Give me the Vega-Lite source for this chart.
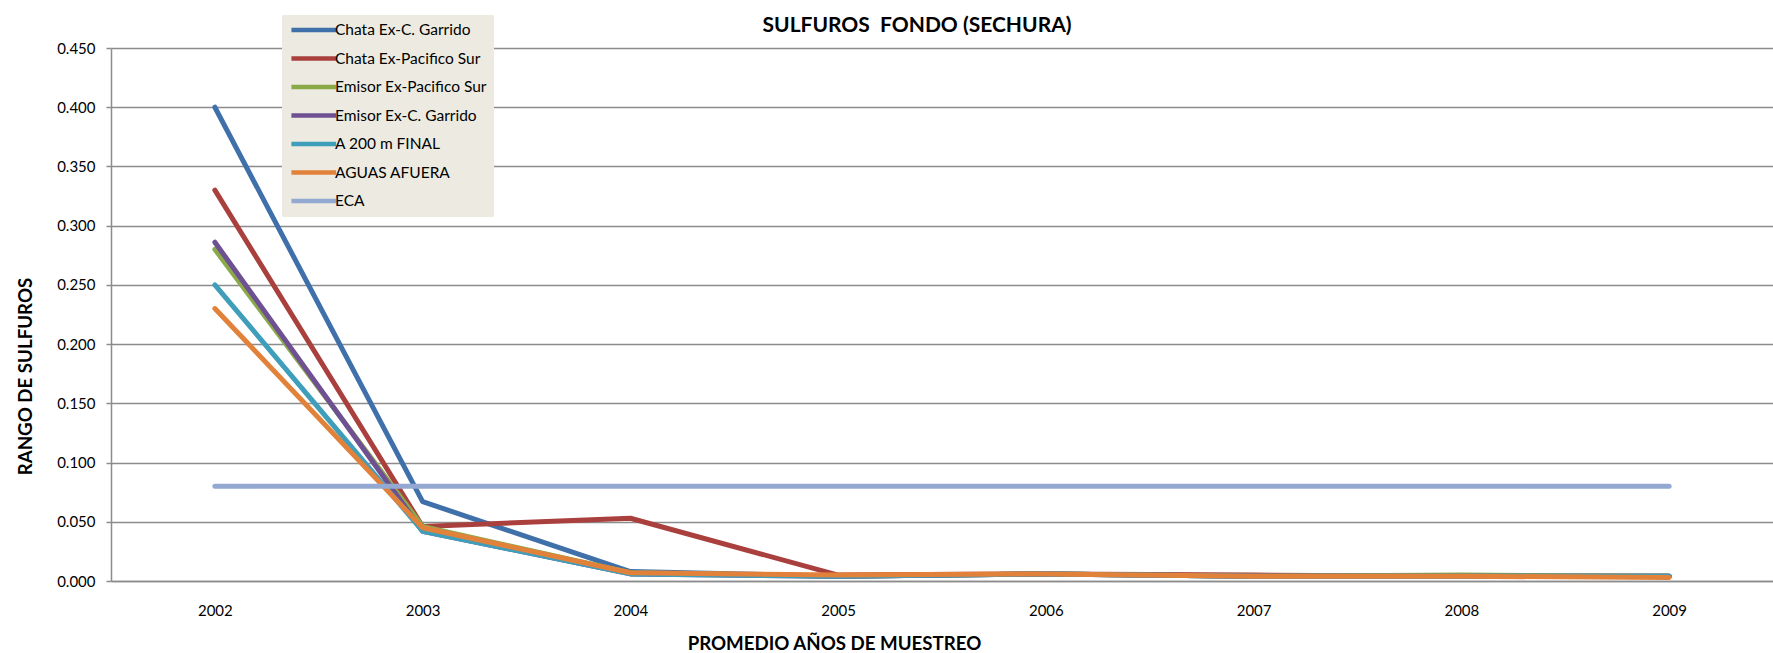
{
  "$schema": "https://vega.github.io/schema/vega-lite/v6.json",
  "autosize": {"type": "none"},
  "width": 1662,
  "height": 533,
  "padding": {"left": 111, "top": 48, "right": 0, "bottom": 72},
  "background": "white",
  "title": {
    "text": "SULFUROS\u00a0 FONDO (SECHURA)",
    "font": "Lato",
    "fontSize": 21,
    "fontWeight": "bold",
    "color": "#000000",
    "anchor": "middle",
    "dx": -25,
    "offset": -21
  },
  "data": {
    "values": [
      {"serie": "Chata Ex-C. Garrido", "anio": "2002", "valor": 0.400},
      {"serie": "Chata Ex-C. Garrido", "anio": "2003", "valor": 0.067},
      {"serie": "Chata Ex-C. Garrido", "anio": "2004", "valor": 0.008},
      {"serie": "Chata Ex-C. Garrido", "anio": "2005", "valor": 0.004},
      {"serie": "Chata Ex-C. Garrido", "anio": "2006", "valor": 0.006},
      {"serie": "Chata Ex-C. Garrido", "anio": "2007", "valor": 0.004},
      {"serie": "Chata Ex-C. Garrido", "anio": "2008", "valor": 0.004},
      {"serie": "Chata Ex-C. Garrido", "anio": "2009", "valor": 0.004},
      {"serie": "Chata Ex-Pacifico Sur", "anio": "2002", "valor": 0.330},
      {"serie": "Chata Ex-Pacifico Sur", "anio": "2003", "valor": 0.046},
      {"serie": "Chata Ex-Pacifico Sur", "anio": "2004", "valor": 0.053},
      {"serie": "Chata Ex-Pacifico Sur", "anio": "2005", "valor": 0.005},
      {"serie": "Chata Ex-Pacifico Sur", "anio": "2006", "valor": 0.006},
      {"serie": "Chata Ex-Pacifico Sur", "anio": "2007", "valor": 0.005},
      {"serie": "Chata Ex-Pacifico Sur", "anio": "2008", "valor": 0.004},
      {"serie": "Chata Ex-Pacifico Sur", "anio": "2009", "valor": 0.004},
      {"serie": "Emisor Ex-Pacifico Sur", "anio": "2002", "valor": 0.280},
      {"serie": "Emisor Ex-Pacifico Sur", "anio": "2003", "valor": 0.046},
      {"serie": "Emisor Ex-Pacifico Sur", "anio": "2004", "valor": 0.007},
      {"serie": "Emisor Ex-Pacifico Sur", "anio": "2005", "valor": 0.004},
      {"serie": "Emisor Ex-Pacifico Sur", "anio": "2006", "valor": 0.006},
      {"serie": "Emisor Ex-Pacifico Sur", "anio": "2007", "valor": 0.004},
      {"serie": "Emisor Ex-Pacifico Sur", "anio": "2008", "valor": 0.005},
      {"serie": "Emisor Ex-Pacifico Sur", "anio": "2009", "valor": 0.004},
      {"serie": "Emisor Ex-C. Garrido", "anio": "2002", "valor": 0.286},
      {"serie": "Emisor Ex-C. Garrido", "anio": "2003", "valor": 0.042},
      {"serie": "Emisor Ex-C. Garrido", "anio": "2004", "valor": 0.006},
      {"serie": "Emisor Ex-C. Garrido", "anio": "2005", "valor": 0.004},
      {"serie": "Emisor Ex-C. Garrido", "anio": "2006", "valor": 0.006},
      {"serie": "Emisor Ex-C. Garrido", "anio": "2007", "valor": 0.004},
      {"serie": "Emisor Ex-C. Garrido", "anio": "2008", "valor": 0.004},
      {"serie": "Emisor Ex-C. Garrido", "anio": "2009", "valor": 0.004},
      {"serie": "A 200 m FINAL", "anio": "2002", "valor": 0.250},
      {"serie": "A 200 m FINAL", "anio": "2003", "valor": 0.042},
      {"serie": "A 200 m FINAL", "anio": "2004", "valor": 0.006},
      {"serie": "A 200 m FINAL", "anio": "2005", "valor": 0.004},
      {"serie": "A 200 m FINAL", "anio": "2006", "valor": 0.006},
      {"serie": "A 200 m FINAL", "anio": "2007", "valor": 0.004},
      {"serie": "A 200 m FINAL", "anio": "2008", "valor": 0.004},
      {"serie": "A 200 m FINAL", "anio": "2009", "valor": 0.004},
      {"serie": "AGUAS AFUERA", "anio": "2002", "valor": 0.230},
      {"serie": "AGUAS AFUERA", "anio": "2003", "valor": 0.045},
      {"serie": "AGUAS AFUERA", "anio": "2004", "valor": 0.007},
      {"serie": "AGUAS AFUERA", "anio": "2005", "valor": 0.005},
      {"serie": "AGUAS AFUERA", "anio": "2006", "valor": 0.006},
      {"serie": "AGUAS AFUERA", "anio": "2007", "valor": 0.004},
      {"serie": "AGUAS AFUERA", "anio": "2008", "valor": 0.004},
      {"serie": "AGUAS AFUERA", "anio": "2009", "valor": 0.003},
      {"serie": "ECA", "anio": "2002", "valor": 0.08},
      {"serie": "ECA", "anio": "2003", "valor": 0.08},
      {"serie": "ECA", "anio": "2004", "valor": 0.08},
      {"serie": "ECA", "anio": "2005", "valor": 0.08},
      {"serie": "ECA", "anio": "2006", "valor": 0.08},
      {"serie": "ECA", "anio": "2007", "valor": 0.08},
      {"serie": "ECA", "anio": "2008", "valor": 0.08},
      {"serie": "ECA", "anio": "2009", "valor": 0.08}
    ]
  },
  "mark": {"type": "line", "strokeWidth": 5, "strokeCap": "round", "strokeJoin": "round"},
  "encoding": {
    "x": {
      "field": "anio",
      "type": "ordinal",
      "scale": {"type": "point", "padding": 0.5},
      "axis": {
        "title": "PROMEDIO AÑOS DE MUESTREO",
        "titleFont": "Lato",
        "titleFontSize": 18.7,
        "titleFontWeight": "bold",
        "titleColor": "#000000",
        "titleX": 723,
        "titleY": 62,
        "titleAlign": "center",
        "titleBaseline": "middle",
        "labelAngle": 0,
        "labelFont": "Lato",
        "labelFontSize": 15,
        "labelColor": "#000000",
        "labelPadding": 22,
        "ticks": false,
        "domainColor": "#8c8c8c",
        "domainWidth": 1.5,
        "grid": false
      }
    },
    "y": {
      "field": "valor",
      "type": "quantitative",
      "scale": {"domain": [0, 0.45], "nice": false},
      "axis": {
        "title": "RANGO DE SULFUROS",
        "titleFont": "Lato",
        "titleFontSize": 18.7,
        "titleFontWeight": "bold",
        "titleColor": "#000000",
        "titleAngle": -90,
        "titleX": -86,
        "titleY": 328,
        "titleAlign": "center",
        "titleBaseline": "middle",
        "values": [0, 0.05, 0.1, 0.15, 0.2, 0.25, 0.3, 0.35, 0.4, 0.45],
        "format": ".3f",
        "labelFont": "Lato",
        "labelFontSize": 15,
        "labelColor": "#000000",
        "labelPadding": 11,
        "tickSize": 5,
        "tickColor": "#8c8c8c",
        "tickWidth": 1.5,
        "domainColor": "#8c8c8c",
        "domainWidth": 1.5,
        "grid": true,
        "gridColor": "#8c8c8c",
        "gridWidth": 1.5
      }
    },
    "color": {
      "field": "serie",
      "type": "nominal",
      "sort": null,
      "scale": {
        "domain": ["Chata Ex-C. Garrido", "Chata Ex-Pacifico Sur", "Emisor Ex-Pacifico Sur", "Emisor Ex-C. Garrido", "A 200 m FINAL", "AGUAS AFUERA", "ECA"],
        "range": ["#4070AA", "#AA403D", "#8AAA4A", "#6E5093", "#3F9EB9", "#E2823A", "#93A9D1"]
      },
      "legend": {
        "title": null,
        "orient": "none",
        "legendX": 171,
        "legendY": -33,
        "fillColor": "#EDEBE1",
        "padding": 7,
        "symbolType": "M-1,0H7",
        "symbolSize": 125,
        "symbolStrokeWidth": 4.5,
        "labelFont": "Lato",
        "labelFontSize": 15.5,
        "labelColor": "#000000",
        "labelOffset": 30,
        "rowPadding": 10.5,
        "labelLimit": 300
      }
    }
  },
  "config": {
    "view": {"stroke": null}
  }
}
